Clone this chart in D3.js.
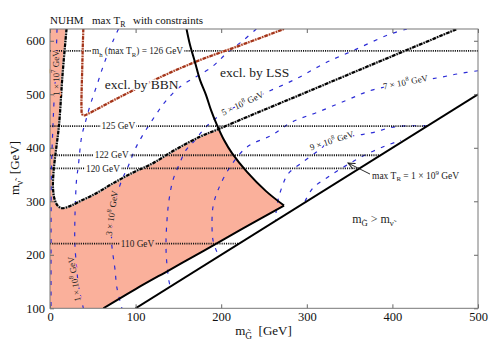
<!DOCTYPE html>
<html>
<head>
<meta charset="utf-8">
<script src="https://cdn.jsdelivr.net/npm/d3@7"></script>
<style>
html, body { margin: 0; padding: 0; background: #fff; }
svg { display: block; font-family: "Liberation Serif", "Times New Roman", serif; }
svg text { font-family: "Liberation Serif", "Times New Roman", serif; }
</style>
</head>
<body>
<svg id="chart" width="495" height="346"></svg>
<script>
var xTicks = [0, 100, 200, 300, 400, 500];
var yTicks = [100, 200, 300, 400, 500, 600];

// m_h contours: label value and the m_nu level where the dotted line sits
var higgsValues = [126, 125, 122, 120, 110];
var higgsLevels = [581, 440.5, 386, 361.5, 221];

// T_R contours, points are [m_G, m_nu] in GeV
var tr1e7 = [[8.2, 622], [6.4, 536], [4.5, 480], [3.5, 442], [2, 380], [1.4, 320], [1.2, 200], [1.2, 100]];
var tr1e8 = [[80, 622], [74, 601], [64, 561], [55, 518], [47, 480], [41, 446], [37, 421], [33, 365], [31, 340],
  [29.5, 290], [29, 259], [29, 222], [31, 178], [33, 147], [36, 121], [39, 100]];
var tr3e8 = [[241, 622], [226, 601], [206, 576], [189, 551], [152, 514], [134, 485], [125, 465], [107, 420], [99, 396],
  [91, 364], [84, 340], [77, 305], [73, 270], [72, 240], [72, 222], [74, 195], [76, 172], [78, 140], [84, 100]];
var tr5e8 = [[417, 622], [395, 611], [356, 583], [321, 558], [289, 530], [253.5, 504], [225.5, 483.5], [198.6, 461],
  [181, 437], [169.4, 414], [159, 396], [150.7, 368], [143.7, 340], [139, 302], [136.7, 265], [135.5, 218],
  [136.7, 181], [140.2, 143.5], [141.5, 141.5]];
var tr7e8 = [[500, 544], [476.6, 538.2], [459.1, 532.6], [377.3, 508.3], [347, 489.2], [313.1, 466.8], [282.7, 448.1],
  [259.3, 423.8], [230.1, 401.4], [210.3, 364], [196.3, 321.1], [190.4, 289.3], [189.3, 251.9], [190.4, 227.6],
  [195.1, 205.2], [198, 198]];
var tr9e8 = [[440, 441], [414.7, 440.8], [397.2, 437.5], [379.7, 429.5], [365.8, 425.2], [329.4, 414.5], [313.1, 394],
  [292.1, 369.7], [278, 351], [271, 326.6], [266.4, 302.4], [264, 278], [263.5, 264]];
var tr1e9 = [[298, 300], [307.2, 324.8], [324.8, 345.3], [347, 367.8], [368, 386.4], [391.4, 403.3], [410, 414]];

// boundaries
var vBoundary = [[19.3, 622], [14.6, 536], [10.5, 442], [7, 396], [4.1, 355], [3.5, 325], [5.3, 304], [9.3, 291],
  [14, 287], [23.4, 291], [35, 300], [53, 314], [72, 332], [96, 353], [119, 370], [146, 396], [175.2, 420.6],
  [196.6, 434.8], [233.6, 459.9], [292.1, 498.9], [350.5, 538.2], [408.9, 577.4], [475.4, 622]];
var lssBoundary = [[159.5, 622], [163.6, 592], [169.4, 560], [175.2, 527], [182.2, 499], [188.1, 470.5], [195.1, 442.5],
  [203.3, 414.5], [212.6, 390], [230.1, 355], [252.3, 319], [273.4, 292]];
var lowerEdge = [[62.3, 100], [100, 136], [140, 172], [180, 208], [225, 249], [273.4, 292]];
var bbnBoundary = [[38.9, 622], [37.5, 540], [36.8, 474], [37.5, 463], [40, 460.5], [44.4, 463.5], [81.8, 495],
  [134.3, 536], [175.2, 564], [220, 590], [273.4, 622]];
var diagonal = [[100, 100], [500, 500]];

var W = 495, H = 346;
var margin = { top: 29, right: 17, bottom: 37.7, left: 50 };
var serif = '"Liberation Serif", "Times New Roman", serif';
var salmon = "#fab09b";
var blue = "#2b2bd6";

var x = d3.scaleLinear().domain([0, 500]).range([margin.left, W - margin.right]);
var y = d3.scaleLinear().domain([100, 622]).range([H - margin.bottom, margin.top]);

var svg = d3.select("#chart");

svg.append("defs").append("clipPath").attr("id", "plotClip")
  .append("rect")
  .attr("x", x(0)).attr("y", y(622))
  .attr("width", x(500) - x(0)).attr("height", y(100) - y(622));

svg.select("defs").append("marker")
  .attr("id", "arrow").attr("markerUnits", "userSpaceOnUse")
  .attr("markerWidth", 10).attr("markerHeight", 10)
  .attr("refX", 7).attr("refY", 3).attr("orient", "auto")
  .append("path").attr("d", "M0,0 L7,3 L0,6")
  .attr("fill", "none").attr("stroke", "#111").attr("stroke-width", 0.9);

var curve = d3.line()
  .x(function (d) { return x(d[0]); })
  .y(function (d) { return y(d[1]); })
  .curve(d3.curveCatmullRom.alpha(0.5));
var straight = d3.line()
  .x(function (d) { return x(d[0]); })
  .y(function (d) { return y(d[1]); });

var plot = svg.append("g").attr("clip-path", "url(#plotClip)");

// allowed (shaded) region
var cross = vBoundary[17];
var vPart = vBoundary.filter(function (d) { return d[0] <= cross[0]; });
var lssPart = lssBoundary.filter(function (d) { return d[1] < cross[1]; });
var edgeRev = lowerEdge.slice().reverse();
var fillPath = "M" + x(0) + "," + y(622) +
  "L" + curve(vPart).slice(1) +
  "L" + curve(lssPart).slice(1) +
  "L" + curve(edgeRev).slice(1) +
  "L" + x(0) + "," + y(100) + "Z";
plot.append("path").attr("d", fillPath).attr("fill", salmon);

// T_R contours
[tr1e7, tr1e8, tr3e8, tr5e8, tr7e8, tr9e8, tr1e9].forEach(function (c) {
  plot.append("path").attr("d", curve(c))
    .attr("fill", "none").attr("stroke", blue)
    .attr("stroke-width", 1.2).attr("stroke-dasharray", "4,6.5");
});

// m_h dotted lines
higgsLevels.forEach(function (lv) {
  plot.append("line")
    .attr("x1", x(0)).attr("x2", x(Math.min(500, lv)))
    .attr("y1", y(lv)).attr("y2", y(lv))
    .attr("stroke", "#111").attr("stroke-width", 1.8)
    .attr("stroke-dasharray", "1.1,1.1");
});

// dash-dot boundary
plot.append("path").attr("d", curve(vBoundary))
  .attr("fill", "none").attr("stroke", "#b5b5b5").attr("stroke-width", 2.2);
plot.append("path").attr("d", curve(vBoundary))
  .attr("fill", "none").attr("stroke", "#000").attr("stroke-width", 2.2)
  .attr("stroke-dasharray", "3.5,1.3,1.2,1.3");

// BBN
plot.append("path").attr("d", curve(bbnBoundary))
  .attr("fill", "none").attr("stroke", "#ebc2b4").attr("stroke-width", 2.2);
plot.append("path").attr("d", curve(bbnBoundary))
  .attr("fill", "none").attr("stroke", "#a3341a").attr("stroke-width", 2.2)
  .attr("stroke-dasharray", "3.5,1.3,1.2,1.3");

// LSS and the two solid lines
plot.append("path").attr("d", curve(lssBoundary))
  .attr("fill", "none").attr("stroke", "#000").attr("stroke-width", 2);
plot.append("path").attr("d", curve(lowerEdge))
  .attr("fill", "none").attr("stroke", "#000").attr("stroke-width", 2);
plot.append("path").attr("d", straight(diagonal))
  .attr("fill", "none").attr("stroke", "#000").attr("stroke-width", 2);

// rich text helper: parts are [string, ""|"sub"|"sup"]
function rich(sel, parts, size) {
  var shift = 0;
  parts.forEach(function (p) {
    var t = sel.append("tspan").text(p[0]);
    var target = p[1] === "sub" ? 0.28 : p[1] === "sup" ? -0.42 : 0;
    var dy = (target - shift) * size;
    if (dy) t.attr("dy", dy);
    if (p[1]) t.attr("font-size", size * 0.72);
    shift = target;
  });
  return sel;
}

// labels on the dotted lines
var higgsLabelX = [102.2, 79.8, 72.1, 61.9, 102.2];
higgsValues.forEach(function (v, i) {
  var g = svg.append("g");
  var t = g.append("text")
    .attr("x", x(higgsLabelX[i])).attr("y", y(higgsLevels[i]) + 3.2)
    .attr("text-anchor", "middle").attr("font-size", 9.3).attr("fill", "#222");
  if (i === 0) {
    rich(t, [["m", ""], ["h", "sub"], ["\u00a0(max T", ""], ["R", "sub"], [") = " + v + " GeV", ""]], 9.3);
  } else {
    t.text(v + " GeV");
  }
  var b = t.node().getBBox();
  g.insert("rect", "text")
    .attr("x", b.x - 1).attr("y", y(higgsLevels[i]) - 2)
    .attr("width", b.width + 2).attr("height", 4)
    .attr("fill", i === 4 ? salmon : "#fff");
});

// T_R labels along the contours
var trLabels = [
  { exp: "7", m: "1", at: [7, 539.6], rot: -91, bg: salmon },
  { exp: "8", m: "1", at: [28.3, 154.7], rot: -99, bg: salmon },
  { exp: "8", m: "3", at: [72.1, 278], rot: -82, bg: salmon },
  { exp: "8", m: "5", at: [224.9, 483], rot: -25, bg: "#fff" },
  { exp: "8", m: "7", at: [415.3, 522.8], rot: -11, bg: "#fff" },
  { exp: "8", m: "9", at: [329.1, 413.5], rot: -18, bg: "#fff" }
];
trLabels.forEach(function (l) {
  var t = svg.append("text")
    .attr("transform", "translate(" + x(l.at[0]) + "," + y(l.at[1]) + ") rotate(" + l.rot + ")")
    .attr("y", 3.1).attr("text-anchor", "middle")
    .attr("font-size", 9).attr("fill", "#222")
    .attr("stroke", l.bg).attr("stroke-width", 2.5)
    .attr("stroke-linejoin", "round").attr("paint-order", "stroke");
  rich(t, [[l.m + " \u00d7 10", ""], [l.exp, "sup"], [" GeV", ""]], 9);
});

// max T_R annotation
svg.append("line")
  .attr("x1", x(373.8)).attr("y1", y(350.9))
  .attr("x2", x(348.1)).attr("y2", y(371.5))
  .attr("stroke", "#111").attr("stroke-width", 0.9)
  .attr("marker-end", "url(#arrow)");
rich(svg.append("text").attr("x", x(376.2)).attr("y", y(342.5))
  .attr("font-size", 9.5).attr("fill", "#222"),
  [["max T", ""], ["R", "sub"], [" = 1 \u00d7 10", ""], ["9", "sup"], [" GeV", ""]], 9.5);

// region labels
svg.append("text").attr("x", x(107.1)).attr("y", y(509.8))
  .attr("text-anchor", "middle").attr("font-size", 13.5).attr("fill", "#222")
  .attr("stroke", "#fff").attr("stroke-width", 3).attr("paint-order", "stroke")
  .text("excl. by BBN");
svg.append("text").attr("x", x(239.1)).attr("y", y(532.2))
  .attr("text-anchor", "middle").attr("font-size", 13.5).attr("fill", "#222")
  .text("excl. by LSS");
rich(svg.append("text").attr("x", x(377.3)).attr("y", y(259.4))
  .attr("text-anchor", "middle").attr("font-size", 12).attr("fill", "#222"),
  [["m", ""], ["G\u0303", "sub"], [" > m", ""], ["\u03bd\u0303", "sub"]], 12);

// axes
function styleAxis(g) {
  g.attr("font-family", serif).attr("font-size", 12.5);
  g.select(".domain").remove();
  g.selectAll(".tick line").attr("stroke", "#666");
  g.selectAll("text").attr("font-family", serif).attr("font-size", 12.5).attr("fill", "#111");
}
svg.append("g").attr("transform", "translate(0," + y(100) + ")")
  .call(d3.axisBottom(x).tickValues(xTicks).tickSize(-4).tickPadding(3.5))
  .call(styleAxis);
svg.append("g").attr("transform", "translate(0," + y(622) + ")")
  .call(d3.axisTop(x).tickValues(xTicks).tickSize(-4).tickFormat(""))
  .call(styleAxis);
svg.append("g").attr("transform", "translate(" + x(0) + ",0)")
  .call(d3.axisLeft(y).tickValues(yTicks).tickSize(-4).tickPadding(5))
  .call(styleAxis);
svg.append("g").attr("transform", "translate(" + x(500) + ",0)")
  .call(d3.axisRight(y).tickValues(yTicks).tickSize(-4).tickFormat(""))
  .call(styleAxis);

svg.append("rect")
  .attr("x", x(0)).attr("y", y(622))
  .attr("width", x(500) - x(0)).attr("height", y(100) - y(622))
  .attr("fill", "none").attr("stroke", "#777").attr("stroke-width", 1);

// axis titles
rich(svg.append("text").attr("x", 263.5).attr("y", 335)
  .attr("text-anchor", "middle").attr("font-size", 13).attr("fill", "#111"),
  [["m", ""], ["G\u0303", "sub"], ["\u00a0\u00a0[GeV]", ""]], 13);
rich(svg.append("text").attr("transform", "translate(19,168) rotate(-90)")
  .attr("text-anchor", "middle").attr("font-size", 13).attr("fill", "#111"),
  [["m", ""], ["\u03bd\u0303", "sub"], ["\u00a0\u00a0[GeV]", ""]], 13);

// title
svg.append("text").attr("x", 50).attr("y", 23.5).attr("font-size", 11).attr("fill", "#111").text("NUHM");
rich(svg.append("text").attr("x", 92).attr("y", 23.5).attr("font-size", 11).attr("fill", "#111"),
  [["max T", ""], ["R", "sub"]], 11);
svg.append("text").attr("x", 133).attr("y", 23.5).attr("font-size", 11).attr("fill", "#111").text("with constraints");
</script>
</body>
</html>
